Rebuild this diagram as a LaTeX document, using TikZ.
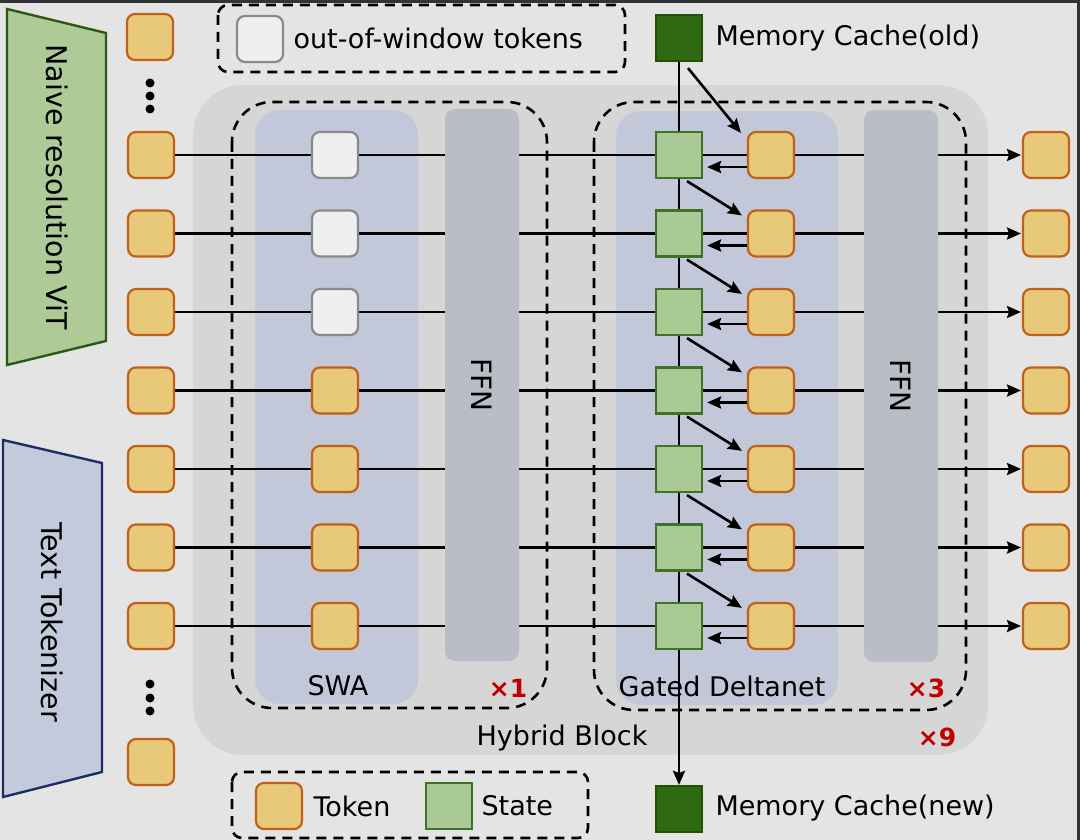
\documentclass[tikz,border=0pt]{standalone}
\usepackage{fontspec}
\setmainfont{DejaVu Sans}
\usetikzlibrary{calc,arrows.meta}
\definecolor{bgcol}{HTML}{E4E4E4}
\definecolor{hybcol}{HTML}{D6D6D6}
\definecolor{panelcol}{HTML}{C2C8DA}
\definecolor{ffncol}{HTML}{B9BDC6}
\definecolor{tokfill}{HTML}{E8C97A}
\definecolor{tokdraw}{HTML}{C0601A}
\definecolor{oowfill}{HTML}{EFEFEF}
\definecolor{oowdraw}{HTML}{8A8A8A}
\definecolor{stfill}{HTML}{A9CA95}
\definecolor{stdraw}{HTML}{3D7228}
\definecolor{memfill}{HTML}{2F6A12}
\definecolor{memdraw}{HTML}{22500C}
\definecolor{vitfill}{HTML}{AECB97}
\definecolor{vitdraw}{HTML}{2C5A14}
\definecolor{txtfill}{HTML}{C3CADB}
\definecolor{txtdraw}{HTML}{1B2F66}
\definecolor{repcol}{HTML}{C00000}

\begin{document}
\begin{tikzpicture}[x=1pt, y=-1pt,
  token/.style={draw=tokdraw, fill=tokfill, line width=2.2pt, rounded corners=8pt,
    minimum size=46pt, inner sep=0pt},
  oow/.style={token, draw=oowdraw, fill=oowfill},
  state/.style={draw=stdraw, fill=stfill, line width=2.2pt, minimum size=46pt, inner sep=0pt},
  memory/.style={state, draw=memdraw, fill=memfill},
  ffn/.style={fill=ffncol, rounded corners=10pt, minimum width=552pt, minimum height=74pt,
    rotate=-90, font=\fontsize{28}{32}\selectfont},
  txt/.style={font=\fontsize{27}{32}\selectfont},
  side/.style={font=\fontsize{28.5}{32}\selectfont, rotate=-90},
  rep/.style={font=\fontsize{25}{28}\selectfont\bfseries, text=repcol},
  conn/.style={line width=2.6pt},
  arrow/.style={conn, -{Stealth[length=14pt, width=12pt, inset=2pt]}},
  frame/.style={line width=2.6pt, dash pattern=on 10pt off 7pt}
]
\useasboundingbox (0,0) rectangle (1080,840);
\fill[bgcol] (0,0) rectangle (1080,840);
\draw[black!80, line width=3pt] (0,1.5) -- (1078.5,1.5) -- (1078.5,840);

% Encoders
\draw[fill=vitfill, draw=vitdraw, line width=2.4pt] (7,9) -- (106,33) -- (106,341) -- (7,365) -- cycle;
\node[side] (vit) at (57,187) {Naive resolution ViT};
\draw[fill=txtfill, draw=txtdraw, line width=2.4pt] (3,440) -- (102,463) -- (102,772) -- (3,797) -- cycle;
\node[side] (tok) at (52,622) {Text Tokenizer};

% Hybrid block
\fill[hybcol, rounded corners=50pt] (193,85) rectangle (988,755);
\node[txt] (hyb) at (562,738) {Hybrid Block};
\node[rep] (x9) at (937,737) {×9};

% SWA
\draw[frame, rounded corners=40pt] (232,102) rectangle (547,708);
\fill[panelcol, rounded corners=25pt] (255,110) rectangle (418,704);
\node[txt] (swa) at (338,686) {SWA};
\node[rep] (x1) at (508,688) {×1};

% Gated Deltanet
\draw[frame, rounded corners=40pt] (594,102) rectangle (966,710);
\fill[panelcol, rounded corners=25pt] (616,111) rectangle (838,705);
\node[txt] (gdn) at (722,686) {Gated Deltanet};
\node[rep] (x3) at (926,688) {×3};

% Memory cache
\node[memory] (memOld) at (679,38) {};
\node[txt, anchor=west] at (712,38) {Memory Cache(old)};
\node[memory] (memNew) at (679,809) {};
\node[txt, anchor=west] at (712,808) {Memory Cache(new)};
\draw[arrow] (memOld.south) -- (memNew.north);

% Token rows
\foreach \i in {1,...,7} {
  \pgfmathsetmacro\ry{155+(\i-1)*78.5}
  \coordinate (in\i) at (151,\ry);
  \coordinate (out\i) at (1046,\ry);
  \draw[arrow] ($(in\i)+(24,0)$) -- ($(out\i)+(-25,0)$);
}
\node[ffn] (ffn1) at (482,385) {FFN};
\node[ffn] (ffn2) at (901,386) {FFN};

\foreach \i in {1,...,7} {
  \pgfmathsetmacro\ry{155+(\i-1)*78.5}
  \node[token] (inT\i) at (in\i) {};
  \node[token] (outT\i) at (out\i) {};
  \ifnum\i<4
    \node[oow] (swa\i) at (335,\ry) {};
  \else
    \node[token] (swa\i) at (335,\ry) {};
  \fi
  \node[state] (st\i) at (679,\ry) {};
  \node[token] (dt\i) at (771,\ry) {};
  \draw[arrow, shorten >=4pt] ([yshift=-12pt]dt\i.west) -- ([yshift=-12pt]st\i.east);
}

% State updates
\draw[arrow] ($(memOld.south)+(9,6)$) -- ($(dt1.north west)+(-6,2)$);
\foreach \i/\j in {1/2,2/3,3/4,4/5,5/6,6/7}
  \draw[arrow] ($(st\i.south)+(8,2)$) -- ($(dt\j.north west)+(-5,6)$);

% Extra input tokens
\node[token] (inTop) at (150,37) {};
\node[token] (inBot) at (151,762) {};
\foreach \yy in {83,96,109,684,698,711}
  \fill (150,\yy) circle (4.5pt);

% Legends
\draw[frame, rounded corners=10pt] (218,5) rectangle (625,72);
\node[oow] (lgOow) at (260,39) {};
\node[txt, anchor=west] at (290,38) {out-of-window tokens};
\draw[frame, rounded corners=10pt] (232,772) rectangle (588,838);
\node[token] (lgTok) at (279,806) {};
\node[txt, anchor=west] at (310,806) {Token};
\node[state] (lgSt) at (449,806) {};
\node[txt, anchor=west] at (478,806) {State};

\end{tikzpicture}
\end{document}
